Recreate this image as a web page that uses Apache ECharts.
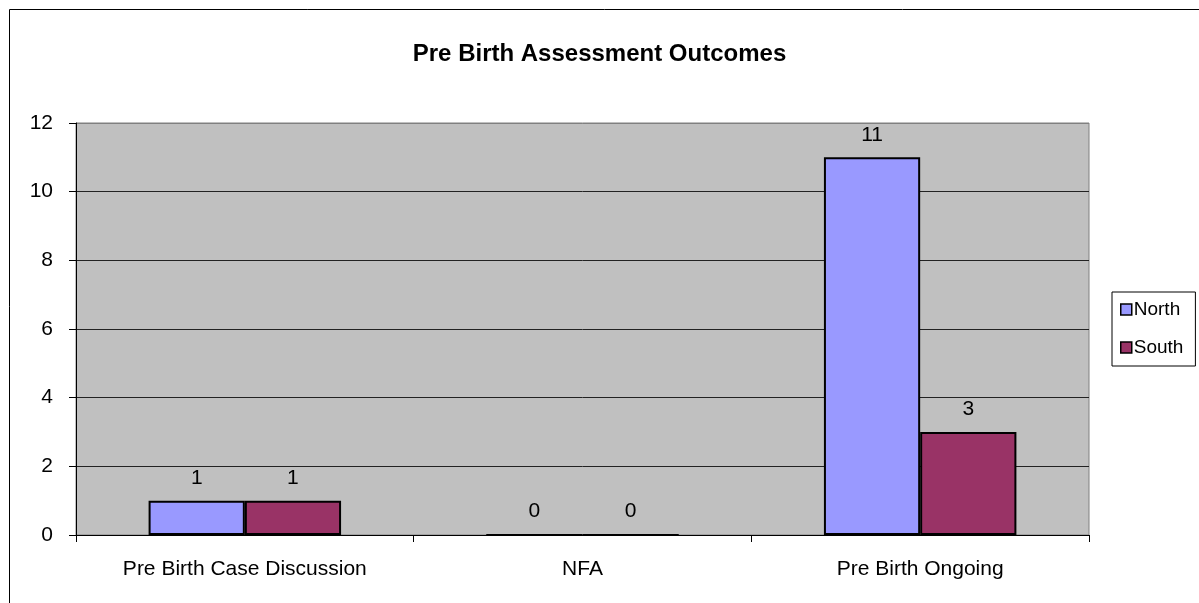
<!DOCTYPE html>
<html>
<head>
<meta charset="utf-8">
<script src="https://cdn.jsdelivr.net/npm/echarts@6/dist/echarts.min.js"></script>
<style>
  html, body { margin: 0; padding: 0; background: #fff; }
  #chart { width: 1199px; height: 603px; }
</style>
</head>
<body>
<div id="chart"></div>
<script>
// data
var categories = ['Pre Birth Case Discussion', 'NFA', 'Pre Birth Ongoing'];
var northValues = [1, 0, 11];
var southValues = [1, 0, 3];
var seriesNames = ['North', 'South'];
var barColors = ['#9999FF', '#993366'];

var font = 'Liberation Sans, Arial, sans-serif';

function barSeries(name, values, color) {
    return {
        name: name,
        type: 'bar',
        data: values,
        barGap: '0%',
        barCategoryGap: '43%',
        itemStyle: { color: color, borderColor: '#000', borderWidth: 2 },
        label: {
            show: true,
            position: 'top',
            distance: 12,
            color: '#000',
            fontFamily: font,
            fontSize: 21
        }
    };
}

var chart = echarts.init(document.getElementById('chart'));
chart.setOption({
    animation: false,
    textStyle: { fontFamily: font },
    title: {
        text: 'Pre Birth Assessment Outcomes',
        left: 'center',
        top: 37,
        textStyle: { fontFamily: font, fontSize: 24, fontWeight: 'bold', color: '#000' }
    },
    graphic: [{
        type: 'rect',
        shape: { x: 9.5, y: 9.5, width: 1200, height: 600 },
        style: { fill: 'none', stroke: '#000', lineWidth: 1 },
        silent: true
    }],
    legend: {
        orient: 'vertical',
        left: 1112,
        top: 292,
        padding: [8, 12, 9, 8],
        itemGap: 19,
        itemWidth: 11,
        itemHeight: 11,
        icon: 'rect',
        borderColor: '#000',
        borderWidth: 1,
        data: seriesNames,
        itemStyle: { borderColor: '#000', borderWidth: 1.5 },
        textStyle: { fontFamily: font, fontSize: 19, color: '#000', padding: [0, 0, 0, -3] }
    },
    grid: {
        left: 76,
        top: 123,
        right: 110,
        bottom: 68,
        show: true,
        backgroundColor: '#C0C0C0',
        borderColor: '#808080',
        borderWidth: 1
    },
    xAxis: {
        type: 'category',
        data: categories,
        axisLine: { lineStyle: { color: '#000', width: 1 } },
        axisTick: { show: true, length: 7, lineStyle: { color: '#000' } },
        axisLabel: { color: '#000', fontFamily: font, fontSize: 21, margin: 24 }
    },
    yAxis: {
        type: 'value',
        min: 0,
        max: 12,
        interval: 2,
        axisLine: { show: true, lineStyle: { color: '#000', width: 1 } },
        axisTick: { show: true, length: 7, lineStyle: { color: '#000' } },
        axisLabel: { color: '#000', fontFamily: font, fontSize: 21, margin: 23 },
        splitLine: { lineStyle: { color: ['#222', '#222', '#222', '#222', '#222', '#222', '#808080'], width: 1 } }
    },
    series: [
        barSeries(seriesNames[0], northValues, barColors[0]),
        barSeries(seriesNames[1], southValues, barColors[1])
    ]
});
</script>
</body>
</html>
